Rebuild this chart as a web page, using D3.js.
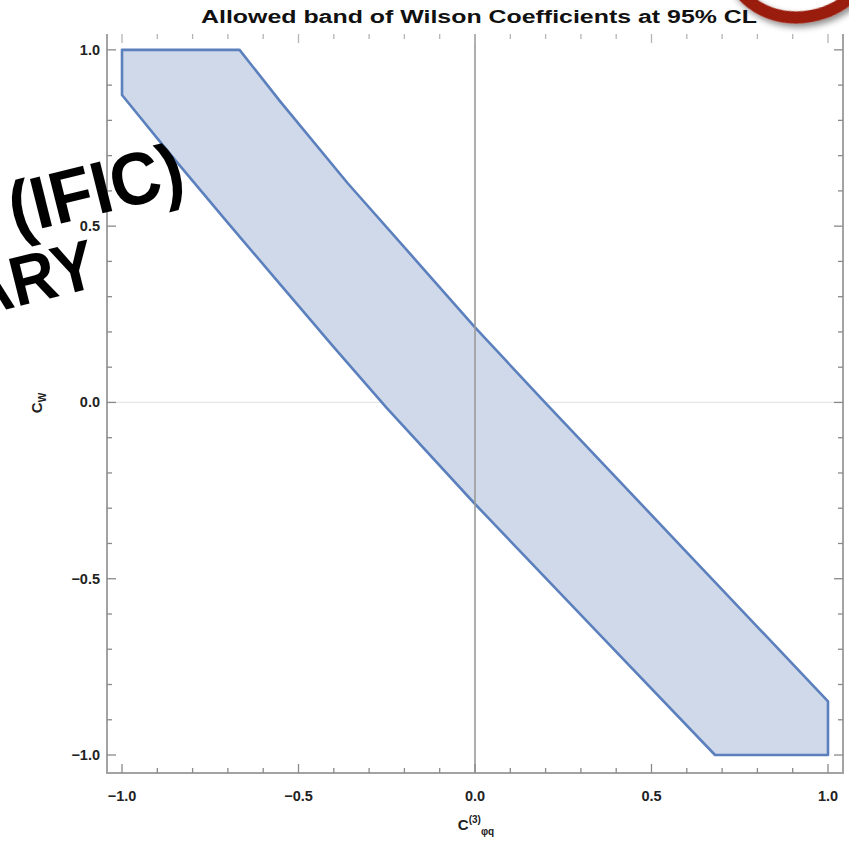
<!DOCTYPE html>
<html lang="en">
  <head>
    <meta charset="UTF-8" />
    <title>Allowed band of Wilson Coefficients</title>
    <style>
      body {
        margin: 0;
        background: #fff;
      }
      svg {
        display: block;
        font-family: "Liberation Sans", Arial, sans-serif;
      }
      .tick-label {
        font-size: 14.5px;
        font-weight: bold;
        fill: #222;
      }
    </style>
    <script src="https://d3js.org/d3.v7.min.js"></script>
  </head>
  <body>
    <div id="chart"></div>
    <script>
      // band edges (C_phiq^(3), C_W)
      const upperX = [-1, -0.667, -0.552, -0.36, -0.17, 0, 0.198, 0.6, 1];
      const upperY = [1, 1, 0.854, 0.621, 0.406, 0.213, 0, -0.425, -0.848];
      const lowerX = [1, 0.68, 0.35, 0, -0.249, -0.402, -0.547, -0.703, -0.87, -1];
      const lowerY = [-1, -1, -0.655, -0.288, -0.017, 0.159, 0.329, 0.513, 0.712, 0.872];

      const majorTicks = [-1, -0.5, 0, 0.5, 1];
      const tickLabels = ["\u22121.0", "\u22120.5", "0.0", "0.5", "1.0"];
      const minorTicks = [-0.9, -0.8, -0.7, -0.6, -0.4, -0.3, -0.2, -0.1,
        0.1, 0.2, 0.3, 0.4, 0.6, 0.7, 0.8, 0.9];

      const W = 849, H = 841;
      const svg = d3.select("#chart").append("svg")
        .attr("width", W).attr("height", H);

      const x = d3.scaleLinear().domain([-1.0425, 1.0425]).range([107, 843]);
      const y = d3.scaleLinear().domain([-1.051, 1.045]).range([773, 34]);
      const [x0, x1] = x.range();
      const [y0, y1] = y.range(); // y0 bottom, y1 top

      // faint y=0 line
      svg.append("line")
        .attr("x1", x0).attr("x2", x1)
        .attr("y1", y(0)).attr("y2", y(0))
        .attr("stroke", "#e6e6e6").attr("stroke-width", 1.2);

      // band
      const pts = upperX.map((v, i) => [v, upperY[i]])
        .concat(lowerX.map((v, i) => [v, lowerY[i]]));
      svg.append("path")
        .datum(pts)
        .attr("d", d3.line().x(d => x(d[0])).y(d => y(d[1])).curve(d3.curveLinearClosed))
        .attr("fill", "#cfd9e9")
        .attr("stroke", "#5b80bd")
        .attr("stroke-width", 2.6)
        .attr("stroke-linejoin", "round");

      // x=0 line
      svg.append("line")
        .attr("x1", x(0)).attr("x2", x(0))
        .attr("y1", y1).attr("y2", y0)
        .attr("stroke", "#9a9a9a").attr("stroke-width", 1.6);

      // frame (left, bottom, right)
      svg.append("path")
        .attr("d", `M${x0},${y1}V${y0}H${x1}V${y1}`)
        .attr("fill", "none")
        .attr("stroke", "#a3a3a3").attr("stroke-width", 2);

      // ticks, pointing inward
      const tickG = svg.append("g").attr("stroke", "#8a8a8a").attr("stroke-width", 1.3);
      const addTicks = (vals, len) => {
        vals.forEach(v => {
          tickG.append("line").attr("x1", x(v)).attr("x2", x(v)).attr("y1", y0).attr("y2", y0 - len);
          tickG.append("line").attr("x1", x(v)).attr("x2", x(v)).attr("y1", y1).attr("y2", y1 + len)
            .attr("stroke", "#b5b5b5");
          tickG.append("line").attr("y1", y(v)).attr("y2", y(v)).attr("x1", x0).attr("x2", x0 + len);
          tickG.append("line").attr("y1", y(v)).attr("y2", y(v)).attr("x1", x1).attr("x2", x1 - len);
        });
      };
      addTicks(majorTicks, 9);
      addTicks(minorTicks, 5);

      // tick labels
      svg.append("g").selectAll("text").data(majorTicks).join("text")
        .attr("class", "tick-label")
        .attr("x", d => x(d)).attr("y", 801)
        .attr("text-anchor", "middle")
        .text((d, i) => tickLabels[i]);
      svg.append("g").selectAll("text").data(majorTicks).join("text")
        .attr("class", "tick-label")
        .attr("x", 100).attr("y", d => y(d) + 5)
        .attr("text-anchor", "end")
        .text((d, i) => tickLabels[i]);

      // title
      svg.append("text")
        .attr("x", 479).attr("y", 23)
        .attr("text-anchor", "middle")
        .attr("font-size", 18).attr("font-weight", "bold").attr("fill", "#111")
        .attr("textLength", 556).attr("lengthAdjust", "spacingAndGlyphs")
        .text("Allowed band of Wilson Coefficients at 95% CL");

      // axis labels
      const xl = svg.append("text")
        .attr("x", 476).attr("y", 830)
        .attr("text-anchor", "middle")
        .attr("font-size", 15).attr("font-weight", "bold").attr("fill", "#222");
      xl.append("tspan").text("C");
      xl.append("tspan").attr("font-size", 10).attr("dy", -7).text("(3)");
      xl.append("tspan").attr("font-size", 10).attr("dy", 12).text("\u03c6q");

      const yl = svg.append("text")
        .attr("transform", "translate(42,403) rotate(-90)")
        .attr("text-anchor", "middle")
        .attr("font-size", 15).attr("font-weight", "bold").attr("fill", "#222");
      yl.append("tspan").text("C");
      yl.append("tspan").attr("font-size", 10).attr("dy", 4).text("W");

      // overlay stamp text
      const stamp = svg.append("g")
        .attr("font-family", "'Liberation Sans', Arial, sans-serif")
        .attr("font-weight", "bold").attr("font-size", 74).attr("fill", "#000");
      stamp.append("text")
        .attr("transform", "translate(188,192) rotate(-14)")
        .attr("text-anchor", "end")
        .attr("textLength", 178).attr("lengthAdjust", "spacingAndGlyphs")
        .text("(IFIC)");
      stamp.append("text")
        .attr("transform", "translate(100,286) rotate(-14)")
        .attr("text-anchor", "end")
        .attr("font-size", 70)
        .attr("textLength", 132).attr("lengthAdjust", "spacingAndGlyphs")
        .text("ARY");

      // red highlight ring at top-right corner
      const defs = svg.append("defs");
      const f = defs.append("filter").attr("id", "shadow")
        .attr("x", "-30%").attr("y", "-30%").attr("width", "160%").attr("height", "160%");
      f.append("feDropShadow").attr("dx", 2).attr("dy", 4).attr("stdDeviation", 3)
        .attr("flood-color", "#000").attr("flood-opacity", 0.45);
      svg.append("ellipse")
        .attr("cx", 800).attr("cy", -45).attr("rx", 72).attr("ry", 62)
        .attr("transform", "rotate(-10,800,-45)")
        .attr("fill", "none")
        .attr("stroke", "#9a1a0a").attr("stroke-width", 12)
        .attr("filter", "url(#shadow)");
    </script>
  </body>
</html>
